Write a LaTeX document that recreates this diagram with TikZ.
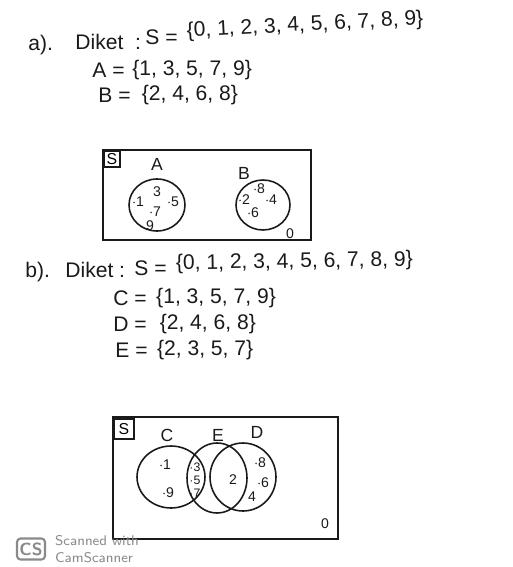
\documentclass[tikz,border=0pt]{standalone}
\usepackage{fontspec}
\setmainfont{Liberation Sans}
\usetikzlibrary{positioning,shapes.geometric}
\definecolor{ink}{HTML}{1a1a1a}
\definecolor{scangray}{HTML}{8a8a8a}

\begin{document}
\begin{tikzpicture}[x=0.02cm, y=-0.02cm,
    txt/.style={anchor=west, font=\large, inner sep=0pt, ink},
    elem/.style={font=\footnotesize, inner sep=0pt, ink},
    setc/.style={draw=ink, ellipse, line width=0.9pt, inner sep=0pt},
    univ/.style={draw=ink, line width=0.9pt},
    tagbox/.style={draw=ink, line width=0.9pt, anchor=north west, font=\small,
                   inner sep=0pt, minimum width=#1, minimum height=#1},
    lbl/.style={font=\normalsize, inner sep=0pt, ink},
    node distance=3pt
  ]
  \useasboundingbox (0,0) rectangle (513,567);

  % --- a) given sets ---
  \node[txt] (alab) at (28,45) {a).};
  \node[txt] (adik) at (75,42) {Diket\ \ :};
  \node[txt] (aS) at (145,37) {S =};
  \node[txt, rotate=3, right=5pt of aS.east, yshift=3pt] (aSset) {\{0, 1, 2, 3, 4, 5, 6, 7, 8, 9\}};
  \node[txt] (aA) at (92,70) {A =};
  \node[txt, right=4pt of aA.east] (aAset) {\{1, 3, 5, 7, 9\}};
  \node[txt] (aB) at (98,95) {B =};
  \node[txt, right=6pt of aB.east] (aBset) {\{2, 4, 6, 8\}};

  % --- a) Venn ---
  \draw[univ] (103,150) rectangle (311,240);
  \node[tagbox=0.32cm] (s1) at (103,150) {S};
  \node[setc, minimum width=1.12cm, minimum height=1.04cm] (A) at (157,205) {};
  \node[setc, minimum width=1.08cm, minimum height=1.0cm] (B) at (263,205) {};
  \node[lbl, above=4pt of A] (Alab) {A};
  \node[lbl] (Blab) at (244,173) {B};
  \foreach \n/\t/\x/\y in {1/3/157/192, 2/$\cdot$1/138/202, 3/$\cdot$5/173/202,
                           4/$\cdot$7/155/212, 5/9/150/226}
    \node[elem] (eA\n) at (\x,\y) {\t};
  \foreach \n/\t/\x/\y in {1/$\cdot$8/259/189, 2/$\cdot$2/244/200,
                           3/$\cdot$4/271/200, 4/$\cdot$6/253/213}
    \node[elem] (eB\n) at (\x,\y) {\t};
  \node[elem] (zeroa) at (290,234) {0};

  % --- b) given sets ---
  \node[txt] (blab) at (25,272) {b).};
  \node[txt] (bdik) at (65,270) {Diket :};
  \node[txt] (bS) at (134,268) {S =};
  \node[txt, rotate=1, right=5pt of bS.east, yshift=2pt] (bSset) {\{0, 1, 2, 3, 4, 5, 6, 7, 8, 9\}};
  \node[txt] (bC) at (113,298) {C =};
  \node[txt, right=5pt of bC.east] (bCset) {\{1, 3, 5, 7, 9\}};
  \node[txt] (bD) at (113,324) {D =};
  \node[txt, right=7pt of bD.east] (bDset) {\{2, 4, 6, 8\}};
  \node[txt] (bE) at (115,350) {E =};
  \node[txt, right=5pt of bE.east] (bEset) {\{2, 3, 5, 7\}};

  % --- b) Venn ---
  \draw[univ] (113,417) rectangle (338,539);
  \node[tagbox=0.4cm] (s2) at (113,418) {S};
  \node[setc, minimum width=1.36cm, minimum height=1.24cm] (C) at (171,477) {};
  \node[setc, minimum width=1.2cm, minimum height=1.4cm] (E) at (217,478) {};
  \node[setc, minimum width=1.32cm, minimum height=1.36cm] (D) at (243,477) {};
  \node[lbl] (Clab) at (167,435) {C};
  \node[lbl] (Elab) at (218,435) {E};
  \node[lbl] (Dlab) at (257,432) {D};
  \foreach \n/\t/\x/\y in {1/$\cdot$1/165/465, 2/$\cdot$9/168/493,
                           6/2/233/480,
                           7/$\cdot$8/260/463, 8/$\cdot$6/263/483, 9/4/252/497}
    \node[elem] (eC\n) at (\x,\y) {\t};
  % lens C and E
  \foreach \n/\t/\y in {3/3/467, 4/5/480, 5/7/493}
    \node[elem, font=\scriptsize] (eC\n) at (195,\y) {$\cdot$\t};
  \node[elem] (zerob) at (325,524) {0};

  % --- scanner stamp ---
  \node[draw=scangray, rounded corners=2pt, line width=1.2pt, text=scangray,
        font=\sffamily\bfseries, inner sep=0pt, minimum width=0.56cm,
        minimum height=0.42cm] (cs) at (31,549) {CS};
  \node[right=5pt of cs, align=left, inner sep=0pt, text=scangray,
        font=\sffamily\footnotesize] (cstxt) {Scanned with\\CamScanner};
\end{tikzpicture}
\end{document}
